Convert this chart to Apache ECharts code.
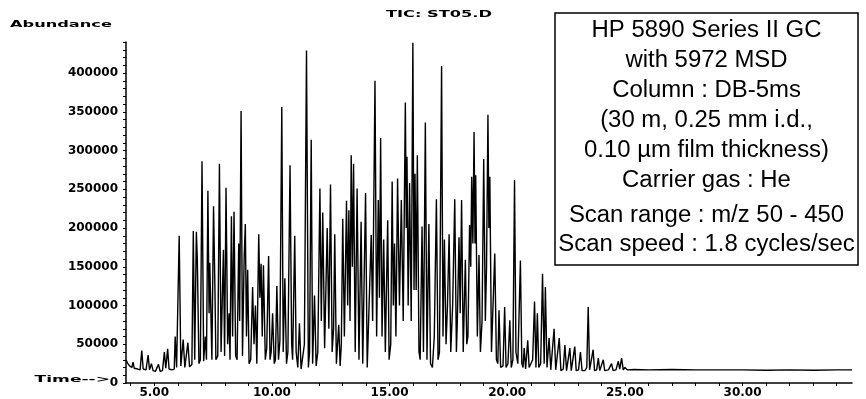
<!DOCTYPE html>
<html><head><meta charset="utf-8">
<script src="https://cdn.jsdelivr.net/npm/echarts@6/dist/echarts.min.js"></script>
<style>html,body{margin:0;padding:0;background:#fff}#c{width:866px;height:399px}</style>
</head><body><div id="c"></div>
<script>
// [retention time (min), abundance]
const segEarly = [
[3.80,30000],[3.86,26000],[3.95,22000],[4.05,20000],[4.10,27000],[4.15,19000],[4.30,18000],[4.40,17000],
[4.47,42000],[4.53,18000],[4.65,17000],[4.74,36000],[4.80,17000],[4.88,25000],[4.95,16000],[5.05,15000],
[5.18,24000],[5.25,15000],[5.35,16000],[5.43,40000],[5.49,19000],[5.57,44000],[5.63,18000],[5.75,17000],
[5.85,18000],[5.89,60000],[5.95,20000],[6.06,190000],[6.13,22000],[6.23,56000],[6.30,20000],[6.43,52000],
[6.50,21000],[6.60,24000],[6.66,196000],[6.72,30000],[6.79,195000],[6.83,160000],[6.90,25000],[6.96,30000],
[7.03,286000],[7.10,28000],[7.17,60000],[7.22,30000],[7.28,248000],[7.33,90000],[7.36,155000],[7.45,30000],
[7.52,228000],[7.58,120000],[7.62,30000],[7.70,35000],[7.77,283000],[7.84,40000],[7.94,172000],[7.99,35000],
[8.05,252000],[8.12,50000],[8.18,90000],[8.22,30000],[8.28,215000],[8.33,60000],[8.39,221000],[8.46,35000],
[8.52,30000],[8.59,180000],[8.63,80000],[8.69,351000],[8.75,35000],[8.82,160000],[8.87,205000],[8.92,60000],
[8.97,146000],[9.03,25000]
];
const segMid = [
[9.10,30000],[9.18,124000],[9.24,50000],[9.30,100000],[9.36,25000],[9.44,192000],[9.49,110000],[9.54,154000],
[9.59,60000],[9.64,152000],[9.72,30000],[9.78,45000],[9.86,164000],[9.92,30000],[9.97,40000],[10.03,90000],
[10.10,25000],[10.15,30000],[10.21,125000],[10.28,30000],[10.34,55000],[10.42,356000],[10.48,40000],[10.55,135000],
[10.62,25000],[10.68,40000],[10.77,281000],[10.84,50000],[10.88,30000],[10.97,190000],[11.03,40000],[11.10,20000],
[11.17,77000],[11.24,18000],[11.30,20000],[11.38,50000],[11.47,429000],[11.55,20000],[11.60,40000],[11.67,314000],
[11.73,25000],[11.81,113000],[11.88,22000],[11.95,40000],[12.04,251000],[12.10,80000],[12.16,220000],[12.24,45000],
[12.35,200000],[12.42,70000],[12.49,256000],[12.56,40000],[12.62,70000],[12.67,192000],[12.74,25000],[12.84,75000],
[12.90,22000],[12.95,50000],[13.01,212000],[13.08,60000],[13.17,235000],[13.22,100000],[13.27,223000],[13.32,80000],
[13.37,294000],[13.42,150000],[13.47,283000],[13.54,40000],[13.62,251000],[13.70,30000],[13.79,208000],[13.86,25000],
[13.98,245000],[14.05,20000],[14.12,18000],[14.22,191000],[14.28,80000],[14.38,390000],[14.45,60000],[14.52,236000],
[14.57,110000],[14.62,316000],[14.68,60000],[14.75,185000],[14.82,40000],[14.92,210000],[14.98,30000]
];
const segLate = [
[15.05,50000],[15.11,260000],[15.16,100000],[15.21,180000],[15.27,60000],[15.34,264000],[15.42,100000],[15.50,236000],
[15.58,80000],[15.67,362000],[15.71,200000],[15.74,292000],[15.79,100000],[15.85,258000],[15.92,80000],[15.99,439000],
[16.04,120000],[16.08,270000],[16.13,120000],[16.18,294000],[16.25,40000],[16.30,30000],[16.38,202000],[16.44,40000],
[16.52,336000],[16.59,30000],[16.67,205000],[16.74,25000],[16.82,20000],[16.90,60000],[16.99,237000],[17.06,30000],
[17.12,40000],[17.21,409000],[17.27,60000],[17.33,185000],[17.40,50000],[17.46,100000],[17.53,192000],[17.60,40000],
[17.68,100000],[17.77,237000],[17.84,40000],[17.88,80000],[17.95,188000],[18.00,90000],[18.06,236000],[18.13,40000],
[18.22,159000],[18.28,50000],[18.33,60000],[18.40,204000],[18.45,150000],[18.49,266000],[18.54,180000],[18.59,324000],
[18.63,180000],[18.66,268000],[18.73,60000],[18.80,165000],[18.86,40000],[18.93,80000],[19.00,289000],[19.07,80000],
[19.12,150000],[19.18,346000],[19.22,200000],[19.26,266000],[19.33,40000],[19.40,40000],[19.47,167000],[19.54,30000],
[19.60,25000],[19.65,94000],[19.72,20000],[19.82,22000],[19.89,98000],[19.95,20000],[20.03,25000],[20.11,81000],
[20.17,20000],[20.24,30000],[20.31,262000],[20.37,40000],[20.45,25000],[20.56,158000],[20.62,25000],[20.67,20000],
[20.72,45000],[20.78,18000],[20.87,55000],[20.93,20000]
];
const segTail = [
[21.00,18000],[21.08,30000],[21.16,105000],[21.22,20000],[21.28,90000],[21.34,20000],[21.42,25000],[21.50,141000],
[21.57,25000],[21.62,124000],[21.69,20000],[21.78,58000],[21.85,17000],[21.93,18000],[21.99,70000],[22.06,17000],
[22.13,18000],[22.21,58000],[22.28,16000],[22.38,18000],[22.45,49000],[22.52,16000],[22.60,18000],[22.66,45000],
[22.72,16000],[22.80,18000],[22.87,47000],[22.93,16000],[23.03,17000],[23.11,40000],[23.18,16000],[23.30,16000],
[23.38,20000],[23.44,98000],[23.50,17000],[23.58,18000],[23.65,43000],[23.71,16000],[23.80,17000],[23.87,32000],
[23.93,16000],[24.00,17000],[24.08,30000],[24.14,16000],[24.30,17000],[24.43,25000],[24.50,16000],[24.62,17000],
[24.72,28000],[24.78,18000],[24.86,32000],[24.93,17000],[25.00,20000],[25.10,17000],[25.40,17500],[26.00,17000],
[27.00,17500],[28.00,17000],[29.00,17000],[30.00,17000],[31.00,16500],[32.00,17000],[33.00,16500],[34.00,17000],
[34.65,17000]
];
const xLabelValues = [5, 10, 15, 20, 25, 30];
const xTickValues = [4,5,6,7,8,9,10,11,12,13,14,15,16,17,18,19,20,21,22,23,24,25,26,27,28,29,30,31,32,33,34];
const yLabelValues = [0, 50000, 100000, 150000, 200000, 250000, 300000, 350000, 400000];
const yTickValues = [];
for (let v = 0; v <= 440000; v += 10000) yTickValues.push(v);
const titleText = 'TIC: ST05.D';
const yName = 'Abundance';
const xName = 'Time-->';
const boxLines = [
  'HP 5890 Series II GC',
  'with 5972 MSD',
  'Column : DB-5ms',
  '(30 m, 0.25 mm i.d.,',
  '0.10 \u00b5m film thickness)',
  'Carrier gas : He',
  'Scan range : m/z 50 - 450',
  'Scan speed : 1.8 cycles/sec'
];
const boxLineY = [31, 61, 91, 121, 151, 181, 216, 245];

const trace = segEarly.concat(segMid, segLate, segTail);
const chart = echarts.init(document.getElementById('c'), null, {renderer: 'canvas'});
const smallFont = 'bold 9px "DejaVu Sans"';
const graphics = [
  {type:'text', x:439, y:15, scaleX:1.8, style:{text:titleText, font:smallFont, fill:'#000', textAlign:'center', textVerticalAlign:'middle', align:'center', verticalAlign:'middle'}},
  {type:'text', x:61, y:25, scaleX:1.8, style:{text:yName, font:smallFont, fill:'#000', textAlign:'center', textVerticalAlign:'middle', align:'center', verticalAlign:'middle'}},
  {type:'text', x:110, y:380, scaleX:1.9, style:{text:xName, font:smallFont, fill:'#000', textAlign:'right', textVerticalAlign:'middle', align:'right', verticalAlign:'middle'}},
  {type:'rect', shape:{x:555, y:13, width:303, height:252}, style:{fill:'#fff', stroke:'#000', lineWidth:1.5}, z:10}
];
boxLines.forEach((t, i) => {
  graphics.push({type:'text', x:706.5, y:boxLineY[i], z:11, scaleX:1.04, style:{text:t, font:'23px "Liberation Sans"', fill:'#000', textAlign:'center', textVerticalAlign:'middle', align:'center', verticalAlign:'middle'}});
});
chart.setOption({
  animation: false,
  backgroundColor: '#fff',
  grid: {left:126, right:14, top:42, bottom:16, containLabel:false},
  xAxis: {
    type:'value', min:3.8, max:34.65,
    axisLine:{show:true, onZero:false, lineStyle:{color:'#000', width:1.5}},
    axisTick:{show:true, customValues:xTickValues, length:3, lineStyle:{color:'#000', width:1}},
    axisLabel:{customValues:xLabelValues, formatter:v => Number(v).toFixed(2), color:'#000', fontFamily:'DejaVu Sans', fontWeight:'bold', fontSize:12, margin:4},
    splitLine:{show:false}
  },
  yAxis: {
    type:'value', min:0, max:440000,
    axisLine:{show:true, lineStyle:{color:'#000', width:1.5}},
    axisTick:{show:true, customValues:yTickValues, length:3, lineStyle:{color:'#000', width:1}},
    axisLabel:{customValues:yLabelValues, formatter:v => String(v), color:'#000', fontFamily:'DejaVu Sans', fontWeight:'bold', fontSize:12, margin:8},
    splitLine:{show:false}
  },
  series: [{
    type:'line', data:trace, symbol:'none', showSymbol:false, smooth:false, sampling:null,
    lineStyle:{color:'#000', width:1.4}, z:2
  }],
  graphic: graphics
});
</script>
</body></html>
